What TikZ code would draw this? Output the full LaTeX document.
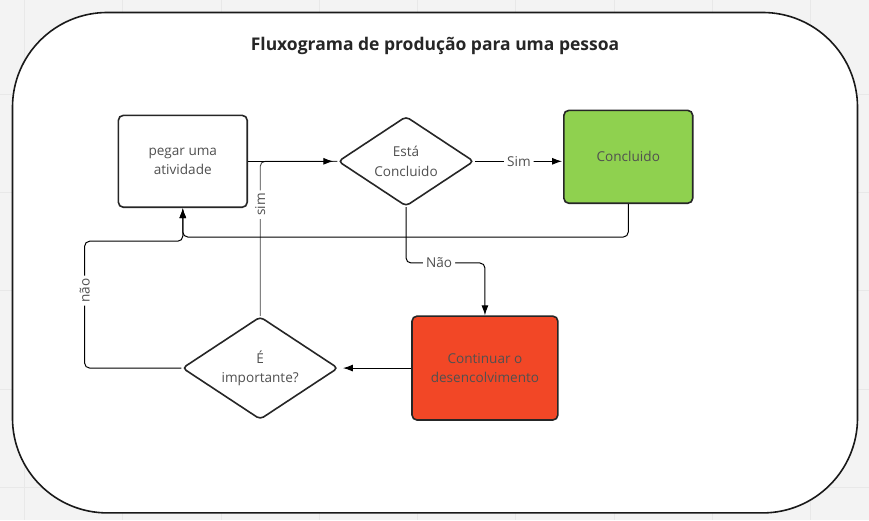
\documentclass[tikz,border=0pt]{standalone}
\usepackage{fontspec}
\setmainfont{Open Sans}
\usetikzlibrary{shapes.geometric,arrows.meta,positioning}
\definecolor{verde}{HTML}{8FD14F}
\definecolor{verm}{HTML}{F24726}
\definecolor{texto}{HTML}{505050}
\definecolor{fundo}{HTML}{F3F3F3}
\definecolor{grade}{HTML}{E8E8E8}

\tikzset{
	caixa/.style={draw=black!85, line width=1.6pt, rounded corners=5pt, minimum width=129pt, minimum height=92pt, align=center, text=texto, font=\fontsize{13.6}{19.5}\selectfont},
	decisao/.style={diamond, aspect=1.5, draw=black!85, fill=white, line width=1.6pt, rounded corners=4pt, inner sep=0pt, align=center, text=texto, font=\fontsize{13.6}{19.5}\selectfont},
	seta/.style={-{Latex[length=10pt,width=7pt]}, line width=1pt, black, rounded corners=5pt},
	liga/.style={line width=0.9pt, black!75, rounded corners=5pt},
	rotulo/.style={fill=white, inner sep=3pt, text=texto, font=\fontsize{13.6}{15}\selectfont}
}

\begin{document}
\begin{tikzpicture}[x=1pt, y=-1pt]
	\fill[fundo] (0,0) rectangle (869,520);
	\foreach \x in {24,122.4,...,869} \draw[grade, line width=1pt] (\x,0) -- (\x,520);
	\foreach \y in {94,192.4,...,520} \draw[grade, line width=1pt] (0,\y) -- (869,\y);
	\useasboundingbox (0,0) rectangle (869,520);
	
	\draw[line width=1.6pt, black!90, fill=white, rounded corners=95pt] (12,12) rectangle (858,513);
	\node[text=black!85, font=\bfseries\fontsize{17.5}{20}\selectfont] (titulo) at (435,46) {Fluxograma de produção para uma pessoa};
	
	\node[caixa, fill=white] (pegar) at (182.5,161) {pegar uma\\atividade};
	\node[decisao, minimum width=136pt, minimum height=90pt] (esta) at (406,161) {Está\\Concluido};
	\node[caixa, fill=verde, minimum height=93pt] (concl) at (628.5,156.5) {Concluido};
	\node[caixa, fill=verm, minimum width=146pt, minimum height=104pt] (cont) at (485,368) {Continuar o\\desencolvimento};
	\node[decisao, minimum width=156pt, minimum height=103pt] (imp) at (260,368) {É\\importante?};
	
	\draw[liga] (imp.north) |- node[rotulo, rotate=90, pos=0.36] {sim} (esta.west);
	\draw[seta, shorten >=4pt] (pegar.east) -- (esta.west);
	\draw[seta, shorten >=1pt] (esta.east) -- node[rotulo] {Sim} (esta.east -| concl.west);
	\draw[seta] (concl.south) -- ++(0,33) -| (pegar.south);
	\draw[seta] (imp.west) -- ++(-97,0) -- node[rotulo, rotate=90, pos=0.61] {não} ++(0,-127) -| (pegar.south);
	\draw[seta] (esta.south) -- ++(0,56) -| node[rotulo, pos=0.21] {Não} (cont.north);
	\draw[seta, shorten >=4pt] (cont.west) -- (imp.east);
\end{tikzpicture}
\end{document}
